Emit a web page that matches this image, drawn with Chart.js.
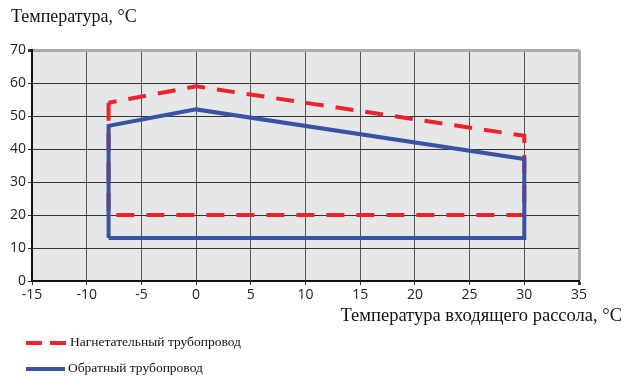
<!DOCTYPE html>
<html>
<head>
<meta charset="utf-8">
<script src="https://cdn.jsdelivr.net/npm/chart.js@4.4.1/dist/chart.umd.min.js"></script>
<style>
  html, body { margin: 0; padding: 0; background: #fff; }
  #wrap { position: relative; width: 626px; height: 376px; overflow: hidden; }
  #chart { position: absolute; left: 0; top: 0; }
  .serif { position: absolute; font-family: "Liberation Serif", "DejaVu Serif", serif; color: #111; white-space: nowrap; }
  .swatch { position: absolute; height: 4px; }
</style>
</head>
<body>
<div id="wrap">
  <canvas id="chart" width="626" height="376"></canvas>
  <div class="serif" style="left:11px; top:6px; font-size:18px;">Температура, °C</div>
  <div class="serif" style="right:4px; top:305px; font-size:18.5px;">Температура входящего рассола, °C</div>
  <div class="swatch" style="left:26px; top:341px; width:16px; background:#ee2229;"></div>
  <div class="swatch" style="left:50px; top:341px; width:16px; background:#ee2229;"></div>
  <div class="serif" style="left:70px; top:334px; font-size:13.5px;">Нагнетательный трубопровод</div>
  <div class="swatch" style="left:26px; top:367px; width:39px; background:#3953a4;"></div>
  <div class="serif" style="left:68px; top:360px; font-size:13.5px;">Обратный трубопровод</div>
</div>
<script>
// Рабочая область теплового насоса
const supplyX = [-8, -8, 30, 30, 0, -8];
const supplyY = [54, 20, 20, 44, 59, 54];
const returnX = [-8, -8, 0, 30, 30, -8];
const returnY = [13, 47, 52, 37, 13, 13];
const seriesNames = ['Нагнетательный трубопровод', 'Обратный трубопровод'];
const xRange = [-15, 35, 5];
const yRange = [0, 70, 10];

const toPoints = (xs, ys) => xs.map((x, i) => ({ x: x, y: ys[i] }));

const plotBg = {
  id: 'plotBg',
  beforeDraw(chart) {
    const { ctx, chartArea: a } = chart;
    ctx.save();
    ctx.fillStyle = '#e6e7e9';
    ctx.fillRect(a.left, a.top, a.right - a.left, a.bottom - a.top);
    ctx.restore();
  }
};

new Chart(document.getElementById('chart'), {
  type: 'scatter',
  data: {
    datasets: [{
      label: seriesNames[0],
      data: toPoints(supplyX, supplyY),
      showLine: true,
      borderColor: '#ee2229',
      borderWidth: 4,
      borderDash: [18, 12],
      borderJoinStyle: 'miter',
      pointRadius: 0,
      tension: 0,
      order: 2
    }, {
      label: seriesNames[1],
      data: toPoints(returnX, returnY),
      showLine: true,
      borderColor: '#3953a4',
      borderWidth: 4,
      borderJoinStyle: 'miter',
      pointRadius: 0,
      tension: 0,
      order: 1
    }]
  },
  options: {
    responsive: false,
    animation: false,
    layout: { padding: { top: 50, right: 47, bottom: 71, left: 0 } },
    plugins: { legend: { display: false }, tooltip: { enabled: false } },
    scales: {
      x: {
        type: 'linear',
        min: xRange[0], max: xRange[1],
        afterFit: s => { s.height = 24; },
        ticks: { stepSize: xRange[2], padding: 2, color: '#222', font: { family: 'Open Sans', size: 14 } },
        grid: {
          color: c => c.tick && c.tick.value === xRange[1] ? '#aaaaaa' : '#555',
          lineWidth: c => c.tick && c.tick.value === xRange[1] ? 3 : 1,
          tickColor: '#333', tickLength: 4
        },
        border: { color: '#111', width: 2 }
      },
      y: {
        min: yRange[0], max: yRange[1],
        afterFit: s => { s.width = 32; },
        ticks: { stepSize: yRange[2], padding: 2, color: '#222', font: { family: 'Open Sans', size: 14 } },
        grid: {
          color: c => c.tick && c.tick.value === yRange[1] ? '#aaaaaa' : '#333',
          lineWidth: c => c.tick && c.tick.value === yRange[1] ? 3 : 1,
          tickColor: '#333', tickLength: 4
        },
        border: { color: '#111', width: 2 }
      }
    }
  },
  plugins: [plotBg]
});
</script>
</body>
</html>
